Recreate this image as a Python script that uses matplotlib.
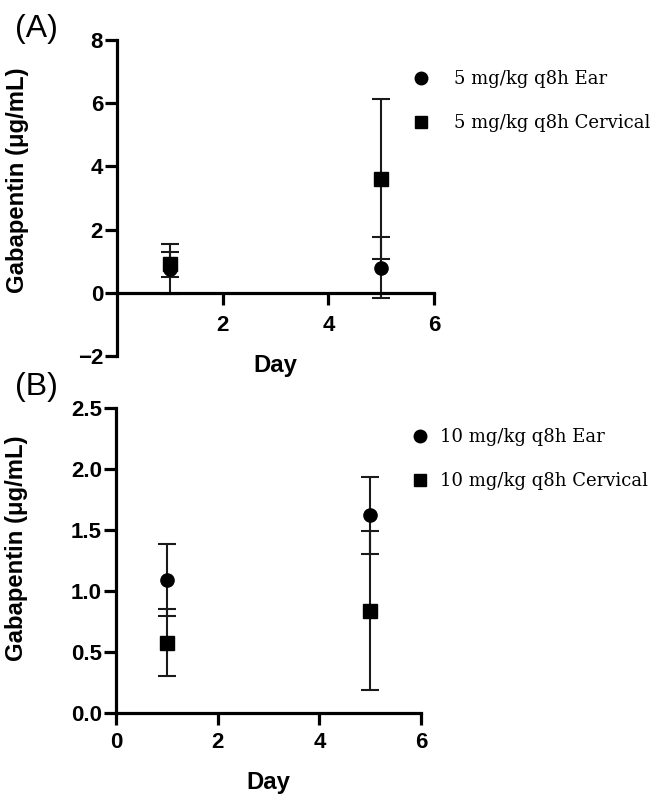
import matplotlib
matplotlib.use("Agg")
import matplotlib.pyplot as plt
from matplotlib.lines import Line2D
from matplotlib.ticker import FormatStrFormatter

plt.rcParams['font.family'] = ['Liberation Sans', 'DejaVu Sans']

days = [1, 5]

# Panel A: 5 mg/kg q8h
a_ear_mean = [0.75, 0.80]
a_ear_sd = [0.78, 0.97]
a_cerv_mean = [0.90, 3.60]
a_cerv_sd = [0.40, 2.53]
a_labels = ["5 mg/kg q8h Ear", "5 mg/kg q8h Cervical"]

# Panel B: 10 mg/kg q8h
b_ear_mean = [1.09, 1.62]
b_ear_sd = [0.295, 0.315]
b_cerv_mean = [0.575, 0.84]
b_cerv_sd = [0.275, 0.65]
b_labels = ["10 mg/kg q8h Ear", "10 mg/kg q8h Cervical"]

W, H = 670, 794
fig = plt.figure(figsize=(6.7, 7.94), dpi=100)

def box(l, r, t, b):
    return [l / W, 1 - b / H, (r - l) / W, (b - t) / H]

axA = fig.add_axes(box(117, 434, 40, 356))
axB = fig.add_axes(box(116, 421, 408, 713))

SPW = 2.3
TICK_FS = 16
LAB_FS = 17.2

def style(ax):
    for s in ['top', 'right']:
        ax.spines[s].set_visible(False)
    for s in ['left', 'bottom']:
        ax.spines[s].set_linewidth(SPW)
        ax.spines[s].set_color('black')
    ax.tick_params(axis='both', width=SPW, length=8.5, labelsize=TICK_FS)
    ax.tick_params(axis='y', pad=1.5)
    for t in ax.get_xticklabels() + ax.get_yticklabels():
        t.set_fontweight('bold')

def draw(ax, em, es, cm, cs):
    kw = dict(color='black', ecolor='#1a1a1a', elinewidth=1.5, capsize=6.5,
              capthick=1.5, linestyle='none', markersize=9.5)
    ax.errorbar(days, cm, yerr=cs, marker='s', **kw)
    ax.errorbar(days, em, yerr=es, marker='o', **kw)

# Panel A
draw(axA, a_ear_mean, a_ear_sd, a_cerv_mean, a_cerv_sd)
axA.set_xlim(0, 6)
axA.set_ylim(-2, 8)
axA.set_xticks([2, 4, 6])
axA.set_yticks([-2, 0, 2, 4, 6, 8])
axA.spines['bottom'].set_position(('data', 0))
style(axA)
axA.tick_params(axis='x', pad=7.5)
axA.set_xlabel('Day', fontsize=LAB_FS, fontweight='bold')
axA.xaxis.set_label_coords(0.5, -(354 - 356) / (356 - 40), transform=axA.transAxes)
axA.set_ylabel('Gabapentin (μg/mL)', fontsize=LAB_FS, fontweight='bold')
axA.yaxis.set_label_coords((29 - 117) / (434 - 117), (356 - 180) / (356 - 40))

# Panel B
draw(axB, b_ear_mean, b_ear_sd, b_cerv_mean, b_cerv_sd)
axB.set_xlim(0, 6)
axB.set_ylim(0, 2.5)
axB.set_xticks([0, 2, 4, 6])
axB.set_yticks([0, 0.5, 1.0, 1.5, 2.0, 2.5])
axB.yaxis.set_major_formatter(FormatStrFormatter('%.1f'))
style(axB)
axB.tick_params(axis='x', pad=5.5)
axB.set_xlabel('Day', fontsize=LAB_FS, fontweight='bold')
axB.xaxis.set_label_coords(0.5, -(771 - 713) / (713 - 408))
axB.set_ylabel('Gabapentin (μg/mL)', fontsize=LAB_FS, fontweight='bold')
axB.yaxis.set_label_coords((28 - 116) / (421 - 116), (713 - 548) / (713 - 408))

# Panel letters
fig.text(36 / W, 1 - 29 / H, '(A)', fontsize=23, ha='center', va='center')
fig.text(36 / W, 1 - 387 / H, '(B)', fontsize=23, ha='center', va='center')

def legend(ax, labels, x_marker, y_top, textpad):
    handles = [
        Line2D([], [], marker='o', color='black', linestyle='none', markersize=9),
        Line2D([], [], marker='s', color='black', linestyle='none', markersize=8.5),
    ]
    ax.legend(handles, labels, loc='upper left',
              bbox_to_anchor=(x_marker / W, 1 - y_top / H),
              bbox_transform=fig.transFigure, frameon=False,
              borderpad=0, borderaxespad=0, handlelength=0.8,
              handletextpad=textpad, labelspacing=1.45,
              prop={'family': 'DejaVu Serif', 'size': 13})

legend(axA, a_labels, 414, 70, 1.4)
legend(axB, b_labels, 413, 428, 0.72)

fig.savefig('out.png', dpi=100)
